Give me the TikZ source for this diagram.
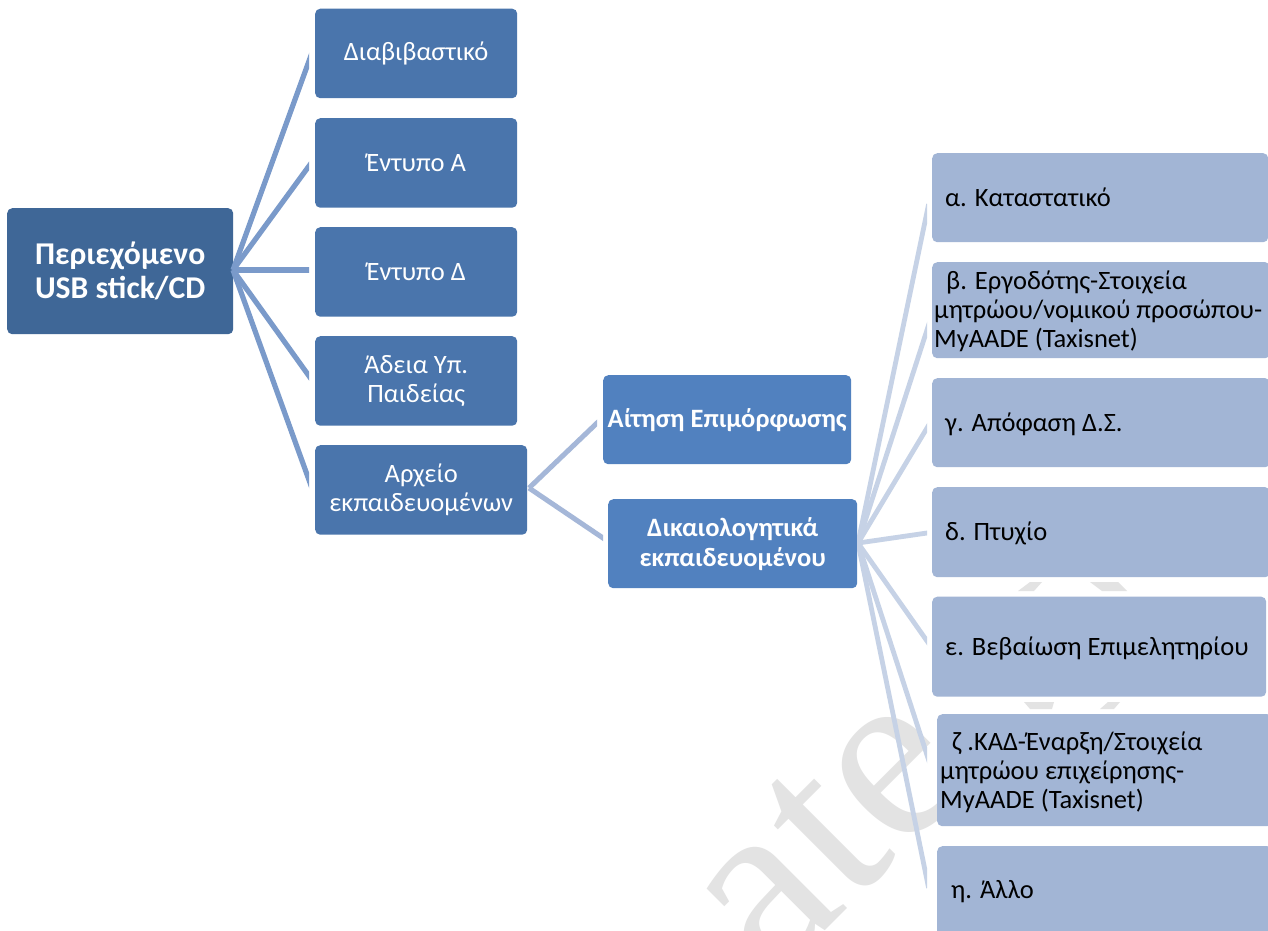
\documentclass[tikz,border=0pt]{standalone}
\usepackage{fontspec}
\setmainfont{Carlito}
\newfontfamily\wmfont{Liberation Serif}
\tikzset{
  boxbase/.style={rounded corners=5pt,inner sep=0pt,align=center,anchor=north west},
  dark/.style={boxbase,fill=root,text=white,font=\fontsize{31.7}{34}\selectfont\bfseries},
  mid/.style={boxbase,fill=lvl,text=white,font=\fontsize{26.5}{29}\selectfont},
  bright/.style={boxbase,fill=lvb,text=white,font=\fontsize{26.5}{30}\selectfont\bfseries},
  pale/.style={boxbase,fill=lvp},
  paletext/.style={inner sep=0pt,align=left,text=black,font=\fontsize{26.5}{29}\selectfont},
  linkA/.style={line width=5.2pt,draw=cA,shorten >=-8pt},
  linkB/.style={line width=5pt,draw=cB,shorten >=-8pt},
  linkC/.style={line width=4.8pt,draw=cC,shorten >=-8pt},
  wm/.style={text=wmc,font=\wmfont\fontsize{250}{250}\selectfont,rotate=45,inner sep=0pt,anchor=base}
}
\definecolor{root}{HTML}{3F6797}
\definecolor{lvl}{HTML}{4A75AC}
\definecolor{lvb}{HTML}{5181BF}
\definecolor{lvp}{HTML}{A2B5D5}
\definecolor{cA}{HTML}{7A9ACA}
\definecolor{cB}{HTML}{A5B7D8}
\definecolor{cC}{HTML}{C6D2E6}
\definecolor{wmc}{HTML}{E3E3E3}
\begin{document}
\begin{tikzpicture}[x=1pt,y=-1pt]
\useasboundingbox (0,0) rectangle (1268,930);
\fill[white] (0,0) rectangle (1268,930);
% watermark
\begin{scope}
\clip (0,0) rectangle (1268,930);
\node[wm] (wm1) at (875,881) {ate};
\fill[wmc] (1018,591) -- (1030,582) -- (1042,582) -- (1034,591) -- cycle;
\fill[wmc] (1090,582) -- (1118,582) -- (1127,591) -- (1102,591) -- cycle;
\fill[wmc] (1024,702) -- (1054,702) -- (1052,709) -- (1030,709) -- cycle;
\fill[wmc] (1108,702) -- (1120,702) -- (1114,709) -- (1100,709) -- cycle;
\end{scope}
% nodes
\node[dark,minimum width=226pt,minimum height=126pt] (root) at (7,208) {Περιεχόμενο\\USB stick/CD};
\node[mid,minimum width=202pt,minimum height=89.5pt] (a1) at (315,8.5) {Διαβιβαστικό};
\node[mid,minimum width=202pt,minimum height=89.5pt] (a2) at (315,118) {Έντυπο Α};
\node[mid,minimum width=202pt,minimum height=89.5pt] (a3) at (315,227) {Έντυπο Δ};
\node[mid,minimum width=202pt,minimum height=89.5pt] (a4) at (315,336) {Άδεια Υπ.\\Παιδείας};
\node[mid,minimum width=212pt,minimum height=89.5pt] (a5) at (315,445) {Αρχείο\\εκπαιδευομένων};
\node[bright,minimum width=248pt,minimum height=89pt] (b1) at (603,375) {Αίτηση Επιμόρφωσης};
\node[bright,minimum width=249pt,minimum height=89pt] (b2) at (608,499) {Δικαιολογητικά\\εκπαιδευομένου};
\node[pale,minimum width=336pt,minimum height=89pt] (c1) at (932,153) {};
\node[paletext,anchor=west] (c1t) at (945,197) {α. Καταστατικό};
\node[pale,minimum width=338pt,minimum height=96pt] (c2) at (932,262) {};
\node[paletext,anchor=north west] (c2t) at (934,271) {\hspace{12pt}β. Εργοδότης-Στοιχεία\\μητρώου/νομικού προσώπου-\\MyAADE (Taxisnet)};
\node[pale,minimum width=338pt,minimum height=89pt] (c3) at (932,378) {};
\node[paletext,anchor=west] (c3t) at (945,424.5) {γ. Απόφαση Δ.Σ.};
\node[pale,minimum width=338pt,minimum height=90pt] (c4) at (932,487) {};
\node[paletext,anchor=west] (c4t) at (945,533) {δ. Πτυχίο};
\node[pale,minimum width=334pt,minimum height=100pt] (c5) at (932,596.5) {};
\node[paletext,anchor=west] (c5t) at (945,648) {ε. Βεβαίωση Επιμελητηρίου};
\node[pale,minimum width=335pt,minimum height=112pt] (c6) at (937,714) {};
\node[paletext,anchor=north west] (c6t) at (940,731.5) {\hspace{12pt}ζ .ΚΑΔ-Έναρξη/Στοιχεία\\μητρώου επιχείρησης-\\MyAADE (Taxisnet)};
\node[pale,minimum width=335pt,minimum height=100pt] (c7) at (937,846) {};
\node[paletext,anchor=west] (c7t) at (951,892) {η. Άλλο};
% connectors
\coordinate (ra) at (233,270);
\foreach \n/\y in {p1/61,p2/166,p3/270,p4/376,p5/480}{\coordinate (\n) at (309,\y);}
\begin{scope}
\clip (225,0) rectangle (309,930);
\foreach \n in {p1,p2,p3,p4,p5}{\draw[linkA] (ra) -- (\n);}
\end{scope}
\coordinate (rb) at (529,488);
\coordinate (q1) at (597,423);
\coordinate (q2) at (603,538);
\begin{scope}
\clip (525,0) rectangle (597,930);
\draw[linkB] (rb) -- (q1);
\end{scope}
\begin{scope}
\clip (525,0) rectangle (603,930);
\draw[linkB] (rb) -- (q2);
\end{scope}
\coordinate (rc) at (858,543);
\foreach \n/\y in {s1/212,s2/330,s3/428,s4/533,s5/641,s6/755,s7/880}{\coordinate (\n) at (927,\y);}
\begin{scope}
\clip (857,0) rectangle (927,930);
\foreach \n in {s1,s2,s3,s4,s5,s6,s7}{\draw[linkC] (rc) -- (\n);}
\end{scope}
\end{tikzpicture}
\end{document}
